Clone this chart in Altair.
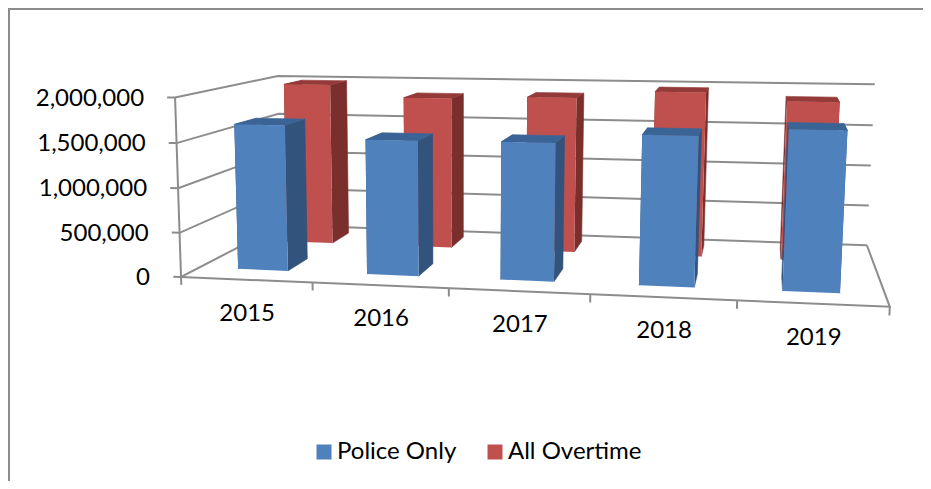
import numpy as np
import pandas as pd
import altair as alt

YEARS = ["2015", "2016", "2017", "2018", "2019"]
POLICE = [1660000, 1520000, 1530000, 1640000, 1730000]
ALL_OT = [1980000, 1840000, 1870000, 1960000, 1870000]
TICKS = [0, 500000, 1000000, 1500000, 2000000]
YMAX = 2000000

FONT = "Lato"
BLUE, BLUE_SIDE, BLUE_TOP = "#4F81BD", "#31537C", "#3A6496"
RED, RED_SIDE, RED_TOP = "#C0504D", "#7B2F2D", "#943B39"
GRID = "#8C8C8C"

# Calibration of the 3D box seen in the picture: (u, v, z) -> pixel
CAL = [
    (0, 0, 0, 183, 276), (.2, 0, 0, 313, 283), (.4, 0, 0, 449, 288), (.6, 0, 0, 590, 295),
    (.8, 0, 0, 737, 301), (1, 0, 0, 890, 307),
    (0, 0, .25, 180.5, 232), (0, 0, .5, 178, 188), (0, 0, .75, 175.5, 143), (0, 0, 1, 173, 98),
    (0, 1, 0, 279, 226), (0, 1, .25, 279, 189), (0, 1, .5, 279.5, 151), (0, 1, .75, 279.5, 113), (0, 1, 1, 280, 76),
    (1, 1, 0, 867, 244), (1, 1, .25, 869, 205), (1, 1, .5, 871, 166), (1, 1, .75, 873, 126), (1, 1, 1, 874, 84),
]
A = []
b = []
for u, v, z, px, py in CAL:
    A.append([u, v, z, 1, 0, 0, 0, 0, -px * u, -px * v, -px * z])
    b.append(px)
    A.append([0, 0, 0, 0, u, v, z, 1, -py * u, -py * v, -py * z])
    b.append(py)
sol = np.linalg.lstsq(np.array(A, float), np.array(b, float), rcond=None)[0]
P = np.append(sol, 1.0).reshape(3, 4)


def proj(u, v, z):
    p = P @ np.array([u, v, z, 1.0])
    return float(p[0] / p[2]), float(p[1] / p[2])


BAR_W = 0.078
V_BLUE = (0.16, 0.37)
V_RED = (0.67, 0.88)


def poly_rows(rows, pid, pts, series=None):
    for k, (u, v, z) in enumerate(pts):
        x, y = proj(u, v, z)
        rows.append(dict(id=pid, k=k, x=x, y=y, series=series))


def bars(values, vr, name):
    sides, tops, fronts = [], [], []
    for i, val in enumerate(values):
        u1 = (i + .5) / 5 - BAR_W / 2
        u2 = (i + .5) / 5 + BAR_W / 2
        v1, v2 = vr
        z = val / YMAX
        poly_rows(sides, f"{name}{i}a", [(u1, v1, 0), (u1, v2, 0), (u1, v2, z), (u1, v1, z)])
        poly_rows(sides, f"{name}{i}b", [(u2, v1, 0), (u2, v2, 0), (u2, v2, z), (u2, v1, z)])
        poly_rows(tops, f"{name}{i}c", [(u1, v1, z), (u2, v1, z), (u2, v2, z), (u1, v2, z)])
        poly_rows(fronts, f"{name}{i}d", [(u1, v1, 0), (u2, v1, 0), (u2, v1, z), (u1, v1, z)], name)
    return pd.DataFrame(sides), pd.DataFrame(tops), pd.DataFrame(fronts)


lines = []


def add_line(pid, pts):
    for k, (u, v, z) in enumerate(pts):
        x, y = proj(u, v, z)
        lines.append(dict(id=pid, k=k, x=x, y=y))


for t in TICKS:
    z = t / YMAX
    add_line(f"g{t}", [(-0.012, 0, z), (0, 0, z), (0, 1, z), (1, 1, z)])
add_line("wall", [(0, 0, 0), (0, 0, 1)])
add_line("floor", [(0, 0, 0), (1, 0, 0), (1, 1, 0)])
for i in range(6):
    add_line(f"t{i}", [(i / 5, 0, 0), (i / 5, 0, -0.045)])
lines = pd.DataFrame(lines)

x_s = alt.Scale(domain=[8, 923], range=[0, 915], nice=False, zero=False)
y_s = alt.Scale(domain=[8, 481], range=[0, 473], nice=False, zero=False)
X = alt.X("x:Q", scale=x_s, axis=None)
Y = alt.Y("y:Q", scale=y_s, axis=None)

border = pd.DataFrame({"id": ["a", "a", "a"], "k": [0, 1, 2], "x": [9, 9, 923], "y": [481, 9, 9]})
border_l = alt.Chart(border).mark_line(color=GRID, strokeWidth=2).encode(x=X, y=Y, detail="id:N", order="k:Q")
frame_l = alt.Chart(lines).mark_line(color=GRID, strokeWidth=2).encode(x=X, y=Y, detail="id:N", order="k:Q")


def solid(df, color):
    return alt.Chart(df).mark_line(fill=color, stroke=color, strokeWidth=0.6).encode(
        x=X, y=Y, detail="id:N", order="k:Q")


legend = alt.Legend(
    title=None, orient="none", legendX=304, legendY=432, direction="horizontal", symbolType="square",
    symbolSize=225, symbolStrokeWidth=0, labelFont=FONT, labelFontSize=24, labelColor="#000000",
    columnPadding=26, symbolOffset=0, labelOffset=1, labelLimit=300, rowPadding=0,
)
scale_series = alt.Scale(domain=["Police Only", "All Overtime"], range=[BLUE, RED])


def front_layer(df):
    return alt.Chart(df).mark_line(filled=True, strokeWidth=0).encode(
        x=X, y=Y, detail="id:N", order="k:Q",
        fill=alt.Fill("series:N", scale=scale_series, legend=legend),
    )


rs, rt, rf = bars(ALL_OT, V_RED, "All Overtime")
bs, bt, bf = bars(POLICE, V_BLUE, "Police Only")

ylab = pd.DataFrame([
    dict(x=proj(0, 0, t / YMAX)[0], y=proj(0, 0, t / YMAX)[1], t=f"{t:,}") for t in TICKS
])
ylab_l = alt.Chart(ylab).mark_text(font=FONT, fontSize=24, align="right", baseline="middle", dx=-31, dy=1, color="#000000").encode(x=X, y=Y, text="t:N")
xlab = pd.DataFrame([
    dict(x=proj((i + .5) / 5, 0, 0)[0], y=proj((i + .5) / 5, 0, 0)[1], t=yr) for i, yr in enumerate(YEARS)
])
xlab_l = alt.Chart(xlab).mark_text(font=FONT, fontSize=24, align="center", baseline="middle", dx=1, dy=34, color="#000000").encode(x=X, y=Y, text="t:N")

chart = alt.layer(
    border_l, frame_l,
    solid(rs, RED_SIDE), solid(rt, RED_TOP), front_layer(rf),
    solid(bs, BLUE_SIDE), solid(bt, BLUE_TOP), front_layer(bf),
    ylab_l, xlab_l,
).properties(width=915, height=473, padding=0, autosize=alt.AutoSizeParams(type="none"), background="#FFFFFF").configure_view(stroke=None)

chart.save("out.html", embed_options={"renderer": "svg", "actions": False})
